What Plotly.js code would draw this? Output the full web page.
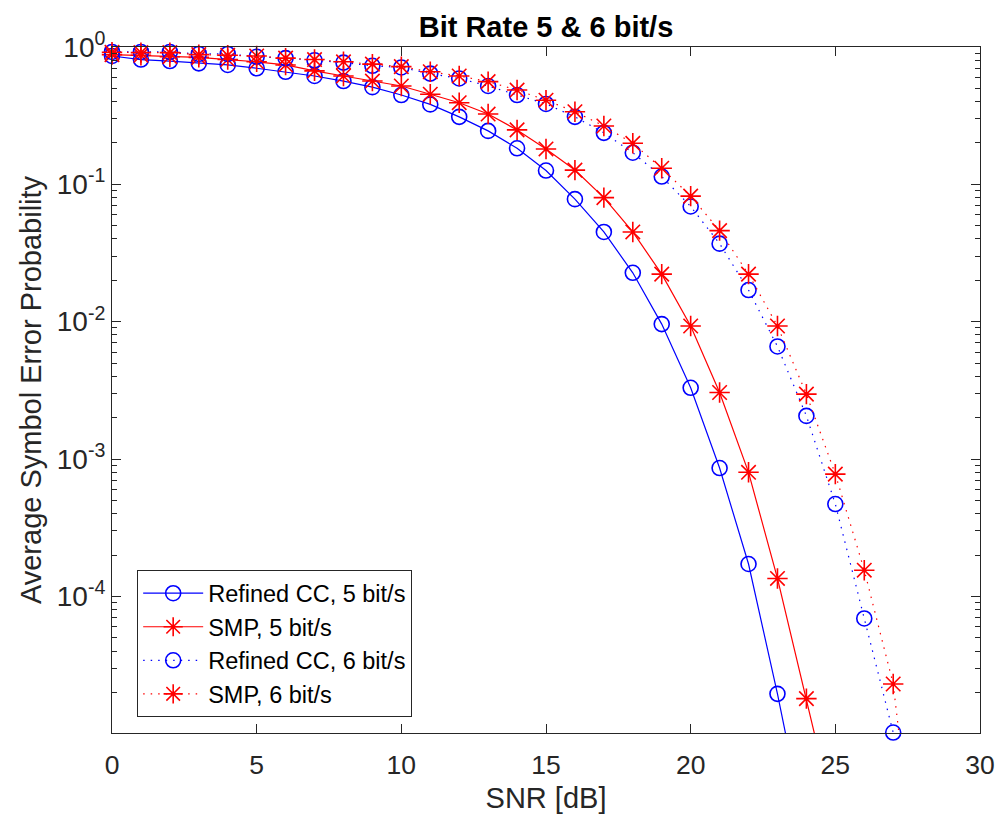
<!DOCTYPE html>
<html>
<head>
<meta charset="utf-8">
<script src="https://cdn.plot.ly/plotly-3.0.1.min.js"></script>
<style>html,body{margin:0;padding:0;background:#fff;}#chart{width:999px;height:821px;}</style>
</head>
<body>
<div id="chart"></div>
<script>
// SNR values (dB) for each series
const snrRefined5 = [0,1,2,3,4,5,6,7,8,9,10,11,12,13,14,15,16,17,18,19,20,21,22,23,24];
const serRefined5 = [0.86,0.81,0.79,0.76,0.74,0.70,0.66,0.615,0.565,0.51,0.447,0.382,0.31,0.245,0.183,0.126,0.078,0.045,0.0227,0.0096,0.0033,8.6e-4,1.72e-4,1.95e-5,1.8e-6];

const snrSmp5 = [0,1,2,3,4,5,6,7,8,9,10,11,12,13,14,15,16,17,18,19,20,21,22,23,24,25];
const serSmp5 = [0.88,0.87,0.85,0.84,0.81,0.78,0.74,0.67,0.615,0.565,0.52,0.453,0.393,0.325,0.249,0.181,0.127,0.080,0.045,0.0222,0.0093,0.00305,8.0e-4,1.35e-4,1.8e-5,2.3e-6];

const snrRefined6 = [0,1,2,3,4,5,6,7,8,9,10,11,12,13,14,15,16,17,18,19,20,21,22,23,24,25,26,27,28];
const serRefined6 = [0.92,0.92,0.92,0.89,0.89,0.85,0.83,0.80,0.77,0.73,0.71,0.64,0.59,0.52,0.447,0.385,0.31,0.237,0.17,0.114,0.069,0.037,0.017,0.0066,0.00206,4.7e-4,6.9e-5,1.02e-5,8e-7];

const snrSmp6 = [0,1,2,3,4,5,6,7,8,9,10,11,12,13,14,15,16,17,18,19,20,21,22,23,24,25,26,27,28];
const serSmp6 = [0.915,0.91,0.91,0.88,0.87,0.86,0.83,0.81,0.78,0.75,0.72,0.66,0.615,0.56,0.486,0.41,0.338,0.266,0.199,0.131,0.082,0.046,0.0222,0.0093,0.00297,7.76e-4,1.55e-4,2.3e-5,3.6e-7];

const seriesNames = ['Refined CC, 5 bit/s','SMP, 5 bit/s','Refined CC, 6 bit/s','SMP, 6 bit/s'];

const xTickVals = [0,5,10,15,20,25,30];
const yTickVals = [1,0.1,0.01,0.001,0.0001];
const yTickText = ['10<sup>0</sup>','10<sup>-1</sup>','10<sup>-2</sup>','10<sup>-3</sup>','10<sup>-4</sup>'];

// minor tick positions (2..9 of each decade)
const minorVals = [];
for (let e = -5; e < 0; e++) for (let m = 2; m <= 9; m++) minorVals.push(m * Math.pow(10, e));

const FONT = '"Liberation Sans", Arial, Helvetica, sans-serif';
const AX = '#262626';
const BLUE = '#0000ff', RED = '#ff0000';
const DOTS = '1.5px,6px';

function tr(x, y, name, color, dash, symbol, size) {
  return {
    x: x, y: y, name: name, type: 'scatter', mode: 'lines+markers',
    cliponaxis: false,
    line: {color: color, width: 1.2, dash: dash},
    marker: {symbol: symbol, size: size, color: color, line: {color: color, width: 1.6}}
  };
}

const data = [
  tr(snrRefined5, serRefined5, seriesNames[0], BLUE, 'solid', 'circle-open', 15),
  tr(snrSmp5, serSmp5, seriesNames[1], RED, 'solid', 'asterisk-open', 17),
  tr(snrRefined6, serRefined6, seriesNames[2], BLUE, DOTS, 'circle-open', 15),
  tr(snrSmp6, serSmp6, seriesNames[3], RED, DOTS, 'asterisk-open', 17)
];

const layout = {
  width: 999, height: 821,
  paper_bgcolor: '#ffffff', plot_bgcolor: '#ffffff',
  margin: {l: 112, r: 19, t: 47, b: 88},
  font: {family: FONT, color: AX, size: 26},
  title: {text: '<b>Bit Rate 5 & 6 bit/s</b>', font: {family: FONT, size: 29, color: '#000'},
          x: 0.5, xref: 'paper', xanchor: 'center', y: 1 - 27/821, yref: 'container', yanchor: 'middle'},
  showlegend: true,
  legend: {x: 0.029, y: 0.237, xanchor: 'left', yanchor: 'top',
           bgcolor: '#fff', bordercolor: AX, borderwidth: 1,
           font: {family: FONT, size: 23.5, color: '#000'}, itemwidth: 60, tracegroupgap: 0},
  xaxis: {
    range: [0, 30], tickmode: 'array', tickvals: xTickVals,
    ticks: 'inside', ticklen: 9, tickwidth: 1, tickcolor: AX,
    showline: true, linecolor: AX, linewidth: 1, mirror: 'ticks',
    showgrid: false, zeroline: false, ticklabelstandoff: 8,
    tickfont: {family: FONT, size: 26.5, color: AX},
    title: {text: 'SNR [dB]', font: {family: FONT, size: 29, color: AX}, standoff: 8}
  },
  yaxis: {
    type: 'log', range: [-4.995, 0], tickmode: 'array', tickvals: yTickVals, ticktext: yTickText,
    ticks: 'inside', ticklen: 9, tickwidth: 1, tickcolor: AX,
    showline: true, linecolor: AX, linewidth: 1, mirror: 'ticks',
    showgrid: false, zeroline: false, ticklabelstandoff: 0,
    tickfont: {family: FONT, size: 28, color: AX},
    minor: {tickmode: 'array', tickvals: minorVals, ticks: 'inside', ticklen: 5, tickwidth: 1, tickcolor: AX, showgrid: false},
    title: {text: 'Average Symbol Error Probability', font: {family: FONT, size: 29, color: AX}, standoff: 6}
  }
};

Plotly.newPlot('chart', data, layout, {displayModeBar: false, staticPlot: true});
</script>
</body>
</html>
